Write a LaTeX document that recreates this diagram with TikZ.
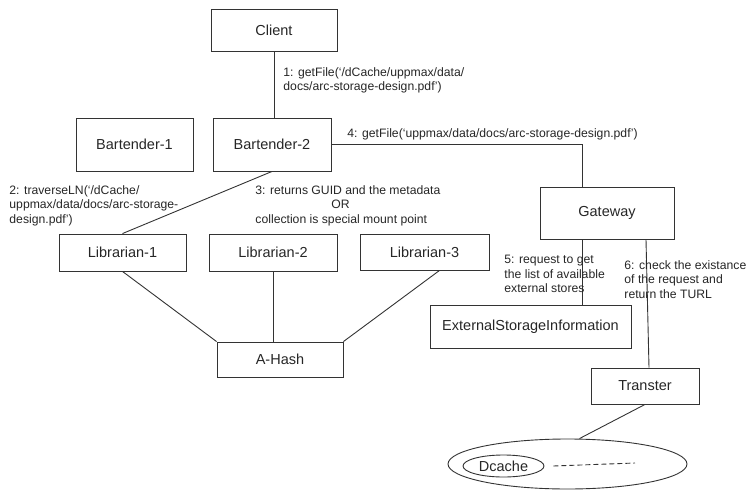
\documentclass[tikz,border=0pt]{standalone}
\usepackage{fontspec}
\setmainfont{Liberation Sans}
\usetikzlibrary{calc,shapes.geometric}

\tikzset{
    box/.style={draw, inner sep=0pt, text=black!85, font=\fontsize{14.5}{17}\selectfont},
    note/.style={inner sep=0pt, align=left, text=black!85, font=\fontsize{12.2}{14.5}\selectfont},
}

\begin{document}
\begin{tikzpicture}[x=1pt, y=-1pt, line width=0.9pt, draw=black!80]
    \useasboundingbox (0,0) rectangle (753,490);

    % Define the boxes
    \node[box, minimum width=126pt, minimum height=42pt] (client) at (274, 30)    {Client};
    \node[box, minimum width=117pt, minimum height=53pt] (b1)     at (134.5, 144.5) {Bartender-1};
    \node[box, minimum width=118pt, minimum height=53pt] (b2)     at (272, 144.5) {Bartender-2};
    \node[box, minimum width=127pt, minimum height=37pt] (l1)     at (122.5, 252.5) {Librarian-1};
    \node[box, minimum width=128pt, minimum height=37pt] (l2)     at (273, 252.5) {Librarian-2};
    \node[box, minimum width=129pt, minimum height=36pt] (l3)     at (424.5, 252) {Librarian-3};
    \node[box, minimum width=126pt, minimum height=35pt] (ahash)  at (280, 359.5) {A-Hash};
    \node[box, minimum width=134pt, minimum height=52pt] (gw)     at (607, 213)   {Gateway};
    \node[box, minimum width=201pt, minimum height=43pt] (esi)    at (530.5, 326.5) {ExternalStorageInformation};
    \node[box, minimum width=108pt, minimum height=36pt] (tr)     at (645, 386)   {Transter};

    % The storage ellipse with dCache inside
    \node[box, ellipse, minimum width=239pt, minimum height=50pt] (store) at (567.5, 464) {};
    \node[box, ellipse, minimum width=81pt, minimum height=22pt] (dcache) at (503.5, 466) {Dcache};
    \coordinate (dashend) at (635, 463);

    % Draw the connections
    \draw (client.south) -- (client.south |- b2.north);
    \draw (b2.east) -| ([xshift=-25pt]gw.north);
    \draw (b2.south) -- (l1.north);
    \draw (l1.south) -- (ahash.north west);
    \draw (l2.south) -- (l2.south |- ahash.north);
    \draw ([xshift=15pt]l3.south) -- (ahash.north east);
    \draw ([xshift=-25pt]gw.south) -- ([xshift=-25pt]gw.south |- esi.north);
    \draw ([xshift=39pt]gw.south) -- ([xshift=4pt]tr.north);
    \draw (tr.south) -- ([xshift=12pt]store.north);
    \draw[dash pattern=on 5pt off 3pt] ([xshift=9pt]dcache.east) -- (dashend);

    % Messages
    \node[note, anchor=north west] (m1) at (283, 67)  {1: getFile(`/dCache/uppmax/data/\\docs/arc-storage-design.pdf')};
    \node[note, anchor=north west] (m2) at (9, 185)   {2: traverseLN(`/dCache/\\uppmax/data/docs/arc-storage-\\design.pdf')};
    \node[note, anchor=north west] (m3) at (255, 185) {3: returns GUID and the metadata\\\hspace*{76pt}OR\\collection is special mount point};
    \node[note, anchor=north west] (m4) at (347, 128) {4: getFile(`uppmax/data/docs/arc-storage-design.pdf')};
    \node[note, anchor=north west] (m5) at (504, 255) {5: request to get\\the list of available\\external stores};
    \node[note, anchor=north west] (m6) at (624, 260) {6: check the existance\\of the request and\\return the TURL};

\end{tikzpicture}
\end{document}
